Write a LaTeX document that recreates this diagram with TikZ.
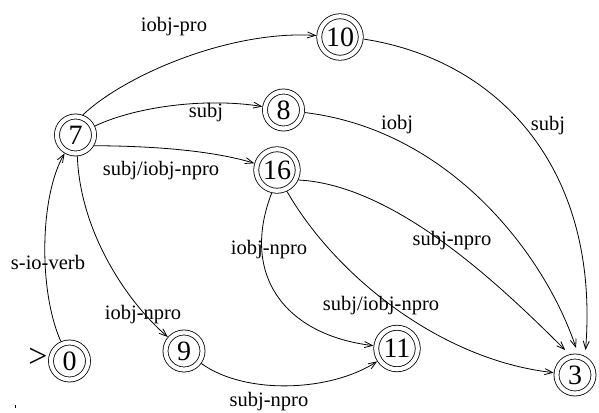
\documentclass[tikz,border=0pt]{standalone}
\usepackage{fontspec}
\setmainfont{Liberation Serif}
\usetikzlibrary{arrows.meta}
\begin{document}
\begin{tikzpicture}[x=1pt,y=-1pt,
  st/.style={circle,draw,line width=0.8pt,double,double distance=4.2pt,inner sep=0pt,minimum size=37pt,outer sep=2.9pt,font=\fontsize{28}{30}\selectfont},
  stw/.style={st,minimum size=41.5pt},
  lab/.style={font=\fontsize{20.5}{24}\selectfont,inner sep=0pt},
  edge/.style={line width=0.8pt,-{Straight Barb[length=8pt,width=6pt]}}]
\useasboundingbox (0,0) rectangle (599,412);
% states
\node[st]  (n0)  at (69.5,361) {0};
\node[st]  (n7)  at (75.5,135) {7};
\node[stw] (n10) at (340,37) {10};
\node[st]  (n8)  at (283.5,110) {8};
\node[stw] (n16) at (277,170) {16};
\node[st]  (n9)  at (184,351) {9};
\node[stw] (n11) at (397,348.5) {11};
\node[st]  (n3)  at (575,375) {3};
% start marker and dot
\node[inner sep=0pt,font=\fontsize{34}{34}\selectfont] (gt) at (38,358) {>};
\fill (14.5,404.5) rectangle (15.5,407.5);
% edges
\draw[edge] (n0) .. controls (38,290) and (40,195) .. (n7);
\draw[edge] (n7.70) .. controls (125,75) and (230,30) .. (n10);
\draw[edge] (n7) .. controls (140,105) and (210,98) .. (n8);
\draw[edge] (n7.-30) .. controls (150,146) and (210,150) .. (n16);
\draw[edge] (n7.-85) .. controls (80,230) and (125,300) .. (n9);
\draw[edge,shorten >=6pt] (n10.-5) .. controls (500,60) and (600,170) .. (n3.62);
\draw[edge,shorten >=6pt] (n8) .. controls (450,130) and (545,255) .. (n3.82);
\draw[edge,shorten >=6pt] (n16.-25) .. controls (395,185) and (500,285) .. (n3.105);
\draw[edge] (n16.-65) .. controls (335,275) and (440,360) .. (n3);
\draw[edge] (n16.-103) .. controls (240,275) and (285,335) .. (n11);
\draw[edge] (n9) .. controls (245,395) and (330,392) .. (n11);
% labels
\node[lab] (l1)  at (48,262)  {s-io-verb};
\node[lab] (l2)  at (174,27)  {iobj-pro};
\node[lab] (l3)  at (206,113) {subj};
\node[lab] (l4)  at (161,171) {subj/iobj-npro};
\node[lab] (l5)  at (143,315) {iobj-npro};
\node[lab] (l6)  at (548,126) {subj};
\node[lab] (l7)  at (397,125) {iobj};
\node[lab] (l8)  at (452,241) {subj-npro};
\node[lab] (l9)  at (381,306) {subj/iobj-npro};
\node[lab] (l10) at (269,250) {iobj-npro};
\node[lab] (l11) at (269,402) {subj-npro};
\end{tikzpicture}
\end{document}
